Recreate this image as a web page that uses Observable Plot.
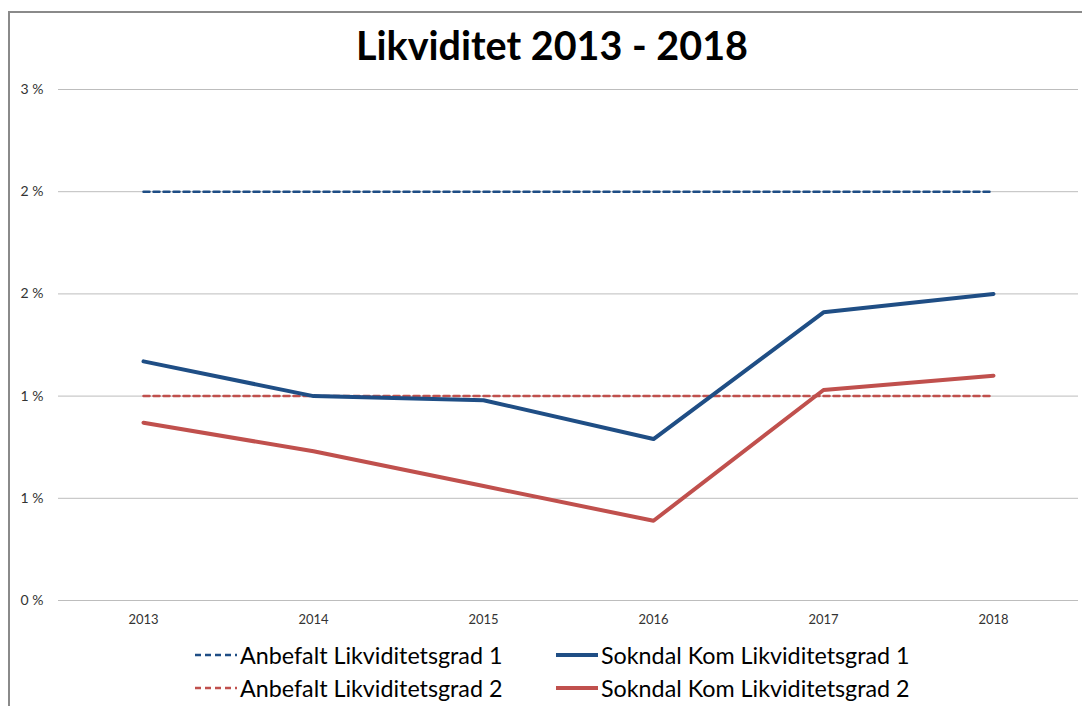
<!DOCTYPE html>
<html>
<head>
<meta charset="utf-8">
<script src="https://cdn.jsdelivr.net/npm/d3@7"></script>
<script src="https://cdn.jsdelivr.net/npm/@observablehq/plot@0.6"></script>
<style>
  html, body { margin: 0; padding: 0; background: #fff; }
  body { width: 1082px; height: 706px; position: relative; overflow: hidden; font-family: Lato, "Open Sans", sans-serif; }
  #frame { position: absolute; left: 8px; top: 11px; right: -2px; bottom: -2px; border-left: 2px solid #8a8a8a; border-top: 2px solid #8a8a8a; }
  #title { position: absolute; left: 0; width: 1104px; top: 21px; text-align: center; font-weight: bold; font-size: 39.5px; color: #000; }
  #chart { position: absolute; left: 0; top: 0; }
  .leg { position: absolute; font-size: 23.3px; color: #000; display: flex; align-items: center; white-space: nowrap; }
  .leg svg { margin-right: 3px; }
</style>
</head>
<body>
<div id="frame"></div>
<div id="chart"></div>
<div id="title">Likviditet 2013 - 2018</div>
<div id="legend"></div>
<script>
const years = ["2013", "2014", "2015", "2016", "2017", "2018"];
const anbefalt1 = [2.0, 2.0, 2.0, 2.0, 2.0, 2.0];
const anbefalt2 = [1.0, 1.0, 1.0, 1.0, 1.0, 1.0];
const sokndal1 = [1.17, 1.0, 0.98, 0.79, 1.41, 1.50];
const sokndal2 = [0.87, 0.73, 0.56, 0.39, 1.03, 1.10];
const yTicks = [0, 0.5, 1.0, 1.5, 2.0, 2.5];
const seriesNames = ["Anbefalt Likviditetsgrad 1", "Anbefalt Likviditetsgrad 2", "Sokndal Kom Likviditetsgrad 1", "Sokndal Kom Likviditetsgrad 2"];

const blue = "#1f4e85";
const red = "#c0504d";

const toRows = (vals, name) => years.map((y, i) => ({year: y, value: vals[i], series: name}));
const a1 = toRows(anbefalt1, seriesNames[0]);
const a2 = toRows(anbefalt2, seriesNames[1]);
const s1 = toRows(sokndal1, seriesNames[2]);
const s2 = toRows(sokndal2, seriesNames[3]);

const plot = Plot.plot({
  width: 1082,
  height: 636,
  marginTop: 89,
  marginBottom: 36,
  marginLeft: 58,
  marginRight: 4,
  style: {fontFamily: "Lato, 'Open Sans', sans-serif", background: "transparent", overflow: "visible"},
  x: {type: "point", domain: years, padding: 0.5, label: null},
  y: {domain: [0, 2.5], ticks: yTicks, label: null},
  marks: [
    Plot.gridY(yTicks, {stroke: "#bdbdbd", strokeOpacity: 1, strokeWidth: 1}),
    Plot.axisY(yTicks, {tickSize: 0, tickPadding: 15, tickFormat: d => Math.round(d) + " %", fontSize: 14, fill: "#333"}),
    Plot.axisX({tickSize: 0, tickPadding: 14, fontSize: 13, fill: "#333"}),
    Plot.line(a1, {x: "year", y: "value", stroke: blue, strokeWidth: 2.5, strokeDasharray: "6,4"}),
    Plot.line(a2, {x: "year", y: "value", stroke: red, strokeWidth: 2.5, strokeDasharray: "6,4"}),
    Plot.line(s1, {x: "year", y: "value", stroke: blue, strokeWidth: 4}),
    Plot.line(s2, {x: "year", y: "value", stroke: red, strokeWidth: 4})
  ]
});
document.getElementById("chart").appendChild(plot);

const legendItems = [
  {name: seriesNames[0], color: blue, dash: true, left: 195, top: 641},
  {name: seriesNames[2], color: blue, dash: false, left: 556, top: 641},
  {name: seriesNames[1], color: red, dash: true, left: 195, top: 674},
  {name: seriesNames[3], color: red, dash: false, left: 556, top: 674}
];
const leg = document.getElementById("legend");
for (const it of legendItems) {
  const d = document.createElement("div");
  d.className = "leg";
  d.style.left = it.left + "px";
  d.style.top = it.top + "px";
  d.innerHTML = `<svg width="42" height="10"><line x1="0" x2="42" y1="5" y2="5" stroke="${it.color}" stroke-width="${it.dash ? 2.5 : 4}" ${it.dash ? 'stroke-dasharray="6,4"' : ''}/></svg><span>${it.name}</span>`;
  leg.appendChild(d);
}
</script>
</body>
</html>
